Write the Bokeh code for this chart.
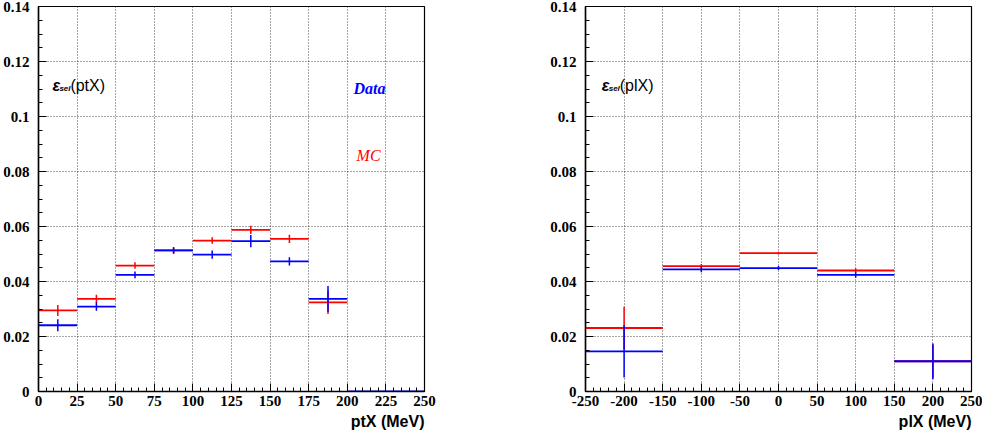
from bokeh.plotting import figure
from bokeh.layouts import row
from bokeh.models import Range1d, FixedTicker, Label, ColumnDataSource, Title
from bokeh.embed import file_html
from bokeh.resources import INLINE

# ---------------- data ----------------
# left panel: efficiency vs ptX (MeV), bins of 25 MeV
pt_lo = [0, 25, 50, 75, 100, 125, 150, 175, 200, 225]
pt_hi = [25, 50, 75, 100, 125, 150, 175, 200, 225, 250]
pt_data = [0.0241, 0.0309, 0.0424, 0.0513, 0.0498, 0.0547, 0.0473, 0.0337, 0.0, 0.0]
pt_data_err = [0.0022, 0.0015, 0.0012, 0.0012, 0.0015, 0.0022, 0.0015, 0.0047, 0.0, 0.0]
pt_mc = [0.0295, 0.0337, 0.0458, 0.0513, 0.0549, 0.0588, 0.0555, 0.0324]
pt_mc_err = [0.0020, 0.0015, 0.0012, 0.0012, 0.0012, 0.0015, 0.0015, 0.0042]

# right panel: efficiency vs plX (MeV), bins of 100 MeV
pl_lo = [-250, -150, -50, 50, 150]
pl_hi = [-150, -50, 50, 150, 250]
pl_data = [0.0146, 0.0444, 0.0449, 0.0424, 0.0110]
pl_data_err = [0.0095, 0.0010, 0.0007, 0.0010, 0.0065]
pl_mc = [0.0231, 0.0456, 0.0503, 0.0440, 0.0110]
pl_mc_err = [0.0077, 0.0008, 0.0005, 0.0008, 0.0060]

y_ticks = [0, 0.02, 0.04, 0.06, 0.08, 0.1, 0.12, 0.14]
y_tick_labels = {0: "0", 0.02: "0.02", 0.04: "0.04", 0.06: "0.06", 0.08: "0.08",
                 0.1: "0.1", 0.12: "0.12", 0.14: "0.14"}
pt_ticks = [0, 25, 50, 75, 100, 125, 150, 175, 200, 225, 250]
pl_ticks = [-250, -200, -150, -100, -50, 0, 50, 100, 150, 200, 250]
pl_tick_labels = {t: str(t) for t in pl_ticks}

RED = "#ff0000"
BLUE = "#0000ff"
TICK_FONT = "Liberation Serif"


def make_fig(xr, xticks, xminor, lmb, rmb):
    p = figure(frame_width=386, frame_height=385, output_backend="svg",
               toolbar_location=None,
               x_range=Range1d(*xr), y_range=Range1d(0, 0.14),
               min_border_left=lmb, min_border_right=rmb,
               min_border_top=6, min_border_bottom=0)
    p.outline_line_color = "black"
    p.outline_line_width = 1.2
    p.background_fill_color = "white"
    p.border_fill_color = "white"
    p.xaxis.ticker = FixedTicker(ticks=xticks, minor_ticks=xminor)
    p.yaxis.ticker = FixedTicker(ticks=y_ticks,
                                 minor_ticks=[i * 0.005 for i in range(29)])
    p.yaxis.major_label_overrides = y_tick_labels
    for ax in (p.xaxis[0], p.yaxis[0]):
        ax.major_tick_in = 8
        ax.major_tick_out = 0
        ax.minor_tick_in = 4
        ax.minor_tick_out = 0
        ax.axis_line_color = "black"
        ax.axis_line_width = 1.5
        ax.major_tick_line_color = "black"
        ax.minor_tick_line_color = "black"
        ax.major_label_text_font = TICK_FONT
        ax.major_label_text_font_style = "bold"
        ax.major_label_text_font_size = "15px"
        ax.major_label_text_color = "black"
    p.xaxis.major_label_standoff = 4
    p.yaxis.major_label_standoff = 9
    for g in (p.xgrid[0], p.ygrid[0]):
        g.grid_line_color = "black"
        g.grid_line_alpha = 0.7
        g.grid_line_dash = "1 2"
        g.grid_line_width = 1
    return p


def draw_hist(p, lo, hi, vals, errs, color):
    n = len(vals)
    lo, hi = lo[:n], hi[:n]
    ctr = [(a + b) / 2 for a, b in zip(lo, hi)]
    src = ColumnDataSource(dict(lo=lo, hi=hi, y=vals, x=ctr,
                                ylo=[v - e for v, e in zip(vals, errs)],
                                yhi=[v + e for v, e in zip(vals, errs)]))
    p.segment(x0="lo", x1="hi", y0="y", y1="y", source=src,
              line_color=color, line_width=1.8)
    p.segment(x0="x", x1="x", y0="ylo", y1="yhi", source=src,
              line_color=color, line_width=1.5)


def eps_label(p, x, y, var):
    p.add_layout(Label(x=x, y=y, text="ε", text_font="Liberation Sans",
                       text_font_style="bold italic", text_font_size="16px",
                       text_baseline="alphabetic", text_color="black"))
    p.add_layout(Label(x=x, y=y, x_offset=7, y_offset=-3, text="sel",
                       text_font="Liberation Sans", text_font_style="bold italic",
                       text_font_size="8px", text_baseline="alphabetic",
                       text_color="black"))
    p.add_layout(Label(x=x, y=y, x_offset=18, text="(" + var + ")",
                       text_font="Liberation Sans", text_font_size="16px",
                       text_baseline="alphabetic", text_color="black"))


def axis_title(p, text):
    p.add_layout(Title(text=text, align="right", text_font="Liberation Sans",
                       text_font_style="bold", text_font_size="16px",
                       text_color="black", standoff=4, offset=0), "below")


# ---------------- left panel ----------------
p1 = make_fig((0, 250), pt_ticks, list(range(0, 251, 5)), 36, 108)
draw_hist(p1, pt_lo, pt_hi, pt_mc, pt_mc_err, RED)
draw_hist(p1, pt_lo, pt_hi, pt_data, pt_data_err, BLUE)
eps_label(p1, 9.0, 0.1112, "ptX")
p1.add_layout(Label(x=204, y=0.1102, text="Data", text_font=TICK_FONT,
                    text_font_style="bold italic", text_font_size="16px",
                    text_baseline="alphabetic", text_color=BLUE))
p1.add_layout(Label(x=206, y=0.0858, text="MC", text_font=TICK_FONT,
                    text_font_style="italic", text_font_size="16px",
                    text_baseline="alphabetic", text_color=RED))
axis_title(p1, "ptX (MeV)")

# ---------------- right panel ----------------
p2 = make_fig((-250, 250), pl_ticks, list(range(-250, 251, 10)), 53, 11)
p2.xaxis.major_label_overrides = pl_tick_labels
draw_hist(p2, pl_lo, pl_hi, pl_mc, pl_mc_err, RED)
draw_hist(p2, pl_lo, pl_hi, pl_data, pl_data_err, BLUE)
eps_label(p2, -229.0, 0.1112, "plX")
axis_title(p2, "plX (MeV)")

layout = row(p1, p2, spacing=0)
open("out.html", "w").write(file_html(layout, INLINE))
